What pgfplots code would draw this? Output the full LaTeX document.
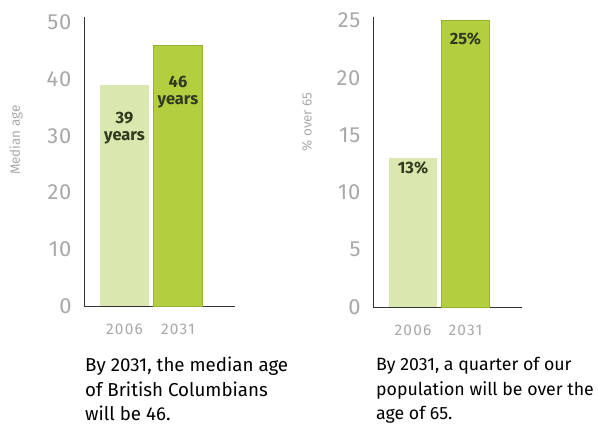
\documentclass[border=0pt]{standalone}
\usepackage{pgfplots}
\pgfplotsset{compat=1.18}
\usepackage{fontspec}
\setmainfont{Fira Sans}
\definecolor{barA}{HTML}{DAE7AE}
\definecolor{barB}{HTML}{B3CE3E}
\definecolor{tickgray}{HTML}{A8A8A8}
\definecolor{labdark}{HTML}{2F3A1E}
\begin{document}
\begin{tikzpicture}
\useasboundingbox (0bp,0bp) rectangle (598bp,425bp);
\pgfplotsset{
  mystyle/.style={
    scale only axis,
    axis x line*=bottom,
    axis y line*=left,
    axis line style={black!80, line width=0.6bp},
    ymin=0,
    tick style={draw=none},
    yticklabel style={font=\fontsize{22}{22}\selectfont\addfontfeature{LetterSpace=4}, text=tickgray, xshift=-9bp},
    xticklabel style={font=\fontsize{15.5}{15.5}\selectfont\addfontfeature{LetterSpace=8}, text=tickgray, yshift=-10bp},
    /pgf/number format/assume math mode=true,
    ylabel style={font=\fontsize{13.5}{13.5}\selectfont, text=tickgray, anchor=center},
    ybar, bar width=49,
    xmin=0,
    clip=false,
  }
}
% Left chart
\begin{axis}[mystyle, at={(84bp,119bp)}, anchor=south west,
  width=151bp, height=289bp, xmax=151, ymax=51,
  ytick={0,10,20,30,40,50},
  xtick={40.5,94}, xticklabels={2006,2031},
  ylabel={Median age}, ylabel style={at={(axis description cs:-0.45,0.574)}}]
\addplot[fill=barA, draw=none, bar shift=0pt] coordinates {(40.5,39)};
\addplot[fill=barB, draw=barB!85!black, line width=0.5bp, bar shift=0pt] coordinates {(94,46)};
\node[font=\fontsize{16.5}{17.5}\selectfont\bfseries, text=labdark, align=center] at (axis cs:40.5,31.4) {39\\years};
\node[font=\fontsize{16.5}{17.5}\selectfont\bfseries, text=labdark, align=center] at (axis cs:94,37.7) {46\\years};
\end{axis}
% Right chart
\begin{axis}[mystyle, at={(373bp,118bp)}, anchor=south west,
  width=149bp, height=290bp, xmax=149, ymax=25.3, bar width=48,
  ytick={0,5,10,15,20,25},
  xtick={40,92.5}, xticklabels={2006,2031},
  ylabel={\% over 65}, ylabel style={at={(axis description cs:-0.443,0.638)}}]
\addplot[fill=barA, draw=none, bar shift=0pt] coordinates {(40,13)};
\addplot[fill=barB, draw=barB!85!black, line width=0.5bp, bar shift=0pt] coordinates {(92.5,25)};
\node[font=\fontsize{16.5}{17.5}\selectfont\bfseries, text=labdark] at (axis cs:40,12.1) {13\%};
\node[font=\fontsize{16.5}{17.5}\selectfont\bfseries, text=labdark] at (axis cs:92.5,23.4) {25\%};
\end{axis}
% Captions
\node[anchor=north west, align=left, font=\fontsize{18.8}{24.5}\selectfont, inner sep=0pt] at (85bp,68bp) {By 2031, the median age\\of British Columbians\\will be 46.};
\node[anchor=north west, align=left, font=\fontsize{17.8}{24.5}\selectfont, inner sep=0pt] at (376bp,67.5bp) {By 2031, a quarter of our\\population will be over the\\age of 65.};
\end{tikzpicture}
\end{document}
